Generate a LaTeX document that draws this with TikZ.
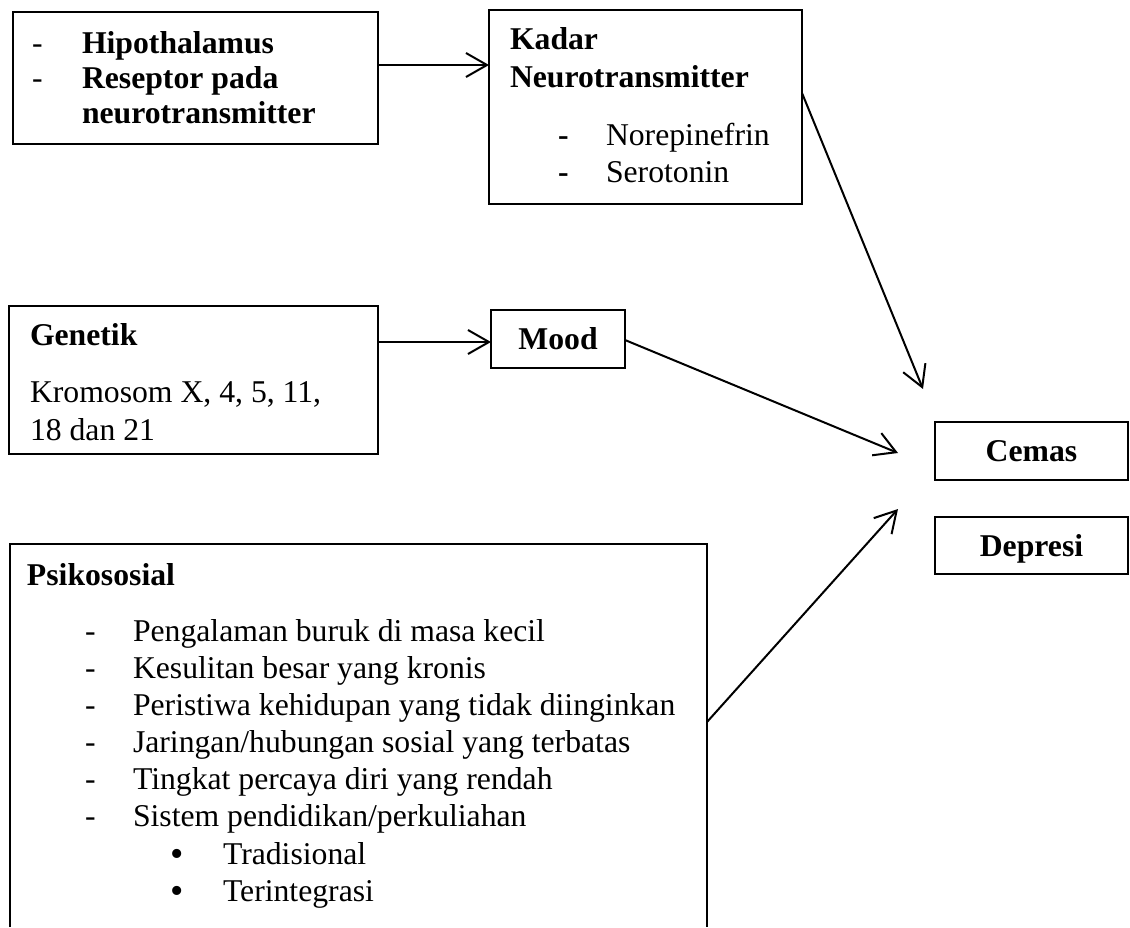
\documentclass[tikz,border=0pt]{standalone}
\usepackage{fontspec}
\setmainfont{Liberation Serif}
\usetikzlibrary{arrows.meta}
\begin{document}
\begin{tikzpicture}[x=1pt,y=-1pt,
  every node/.style={font=\fontsize{31.7}{38}\selectfont, inner sep=0pt, outer sep=0pt},
  box/.style={draw, line width=1.3pt, anchor=north west},
  boxline/.style={line width=1.3pt},
  txt/.style={anchor=base west},
  bul/.style={anchor=base west, font=\fontsize{38}{38}\selectfont},
  plainbox/.style={box, text height=21.7pt, text depth=0pt, font=\fontsize{31.7}{38}\selectfont\bfseries},
  arr/.style={line width=2pt, -{Straight Barb[length=21pt,width=24pt]}},
]
\useasboundingbox (0,0) rectangle (1130,927);

% boxes
\node[box, minimum width=365, minimum height=132] (box1) at (13,12) {};
\node[box, minimum width=313, minimum height=194] (kadar) at (489,10) {};
\node[box, minimum width=369, minimum height=148] (gen) at (9,306) {};
\node[plainbox, minimum width=134, minimum height=58] (mood) at (491,310) {Mood};
\node[plainbox, minimum width=193, minimum height=58] (cemas) at (935,422) {Cemas};
\node[plainbox, minimum width=193, minimum height=57] (depresi) at (935,517) {Depresi};
\node[anchor=north west, minimum width=697, minimum height=383] (psy) at (10,544) {};
\draw[boxline] (psy.south west) -- (psy.north west) -- (psy.north east) -- (psy.south east);

% box1 text
\node[txt] (b1d1) at (32,53) {-};
\node[txt] (b1t1) at (82,53) {\textbf{Hipothalamus}};
\node[txt] (b1d2) at (32,88) {-};
\node[txt] (b1t2) at (82,88) {\textbf{Reseptor pada}};
\node[txt] (b1t3) at (82,123) {\textbf{neurotransmitter}};

% kadar text
\node[txt] (k1) at (510,49) {\textbf{Kadar}};
\node[txt] (k2) at (510,87) {\textbf{Neurotransmitter}};
\node[txt] (kd1) at (558,145) {\textbf{-}};
\node[txt] (kt1) at (606,145) {Norepinefrin};
\node[txt] (kd2) at (558,182) {\textbf{-}};
\node[txt] (kt2) at (606,182) {Serotonin};

% genetik text
\node[txt] (g1) at (30,345) {\textbf{Genetik}};
\node[txt] (g2) at (30,402) {Kromosom X, 4, 5, 11,};
\node[txt] (g3) at (30,440) {18 dan 21};

% psikososial text
\node[txt] (p0) at (27,585) {\textbf{Psikososial}};
\node[txt] (pd1) at (85,641) {-};
\node[txt] (pt1) at (133,641) {Pengalaman buruk di masa kecil};
\node[txt] (pd2) at (85,678) {-};
\node[txt] (pt2) at (133,678) {Kesulitan besar yang kronis};
\node[txt] (pd3) at (85,715) {-};
\node[txt] (pt3) at (133,715) {Peristiwa kehidupan yang tidak diinginkan};
\node[txt] (pd4) at (85,752) {-};
\node[txt] (pt4) at (133,752) {Jaringan/hubungan sosial yang terbatas};
\node[txt] (pd5) at (85,789) {-};
\node[txt] (pt5) at (133,789) {Tingkat percaya diri yang rendah};
\node[txt] (pd6) at (85,826) {-};
\node[txt] (pt6) at (133,826) {Sistem pendidikan/perkuliahan};
\node[bul] (pb1) at (170,866) {•};
\node[txt] (ps1) at (223,864) {Tradisional};
\node[bul] (pb2) at (170,903) {•};
\node[txt] (ps2) at (223,901) {Terintegrasi};

% connectors
\coordinate (t1) at (923,389);
\coordinate (t2) at (898,453);
\coordinate (t3) at (898,509);
\draw[arr] (box1.east |- 0,65) -- (kadar.west |- 0,65);
\draw[arr] (gen.east |- 0,342) -- (mood.west |- 0,342);
\draw[arr] (kadar.east |- 0,93) -- (t1);
\draw[arr] (mood.east |- 0,340) -- (t2);
\draw[arr] (psy.east |- 0,722) -- (t3);
\end{tikzpicture}
\end{document}
